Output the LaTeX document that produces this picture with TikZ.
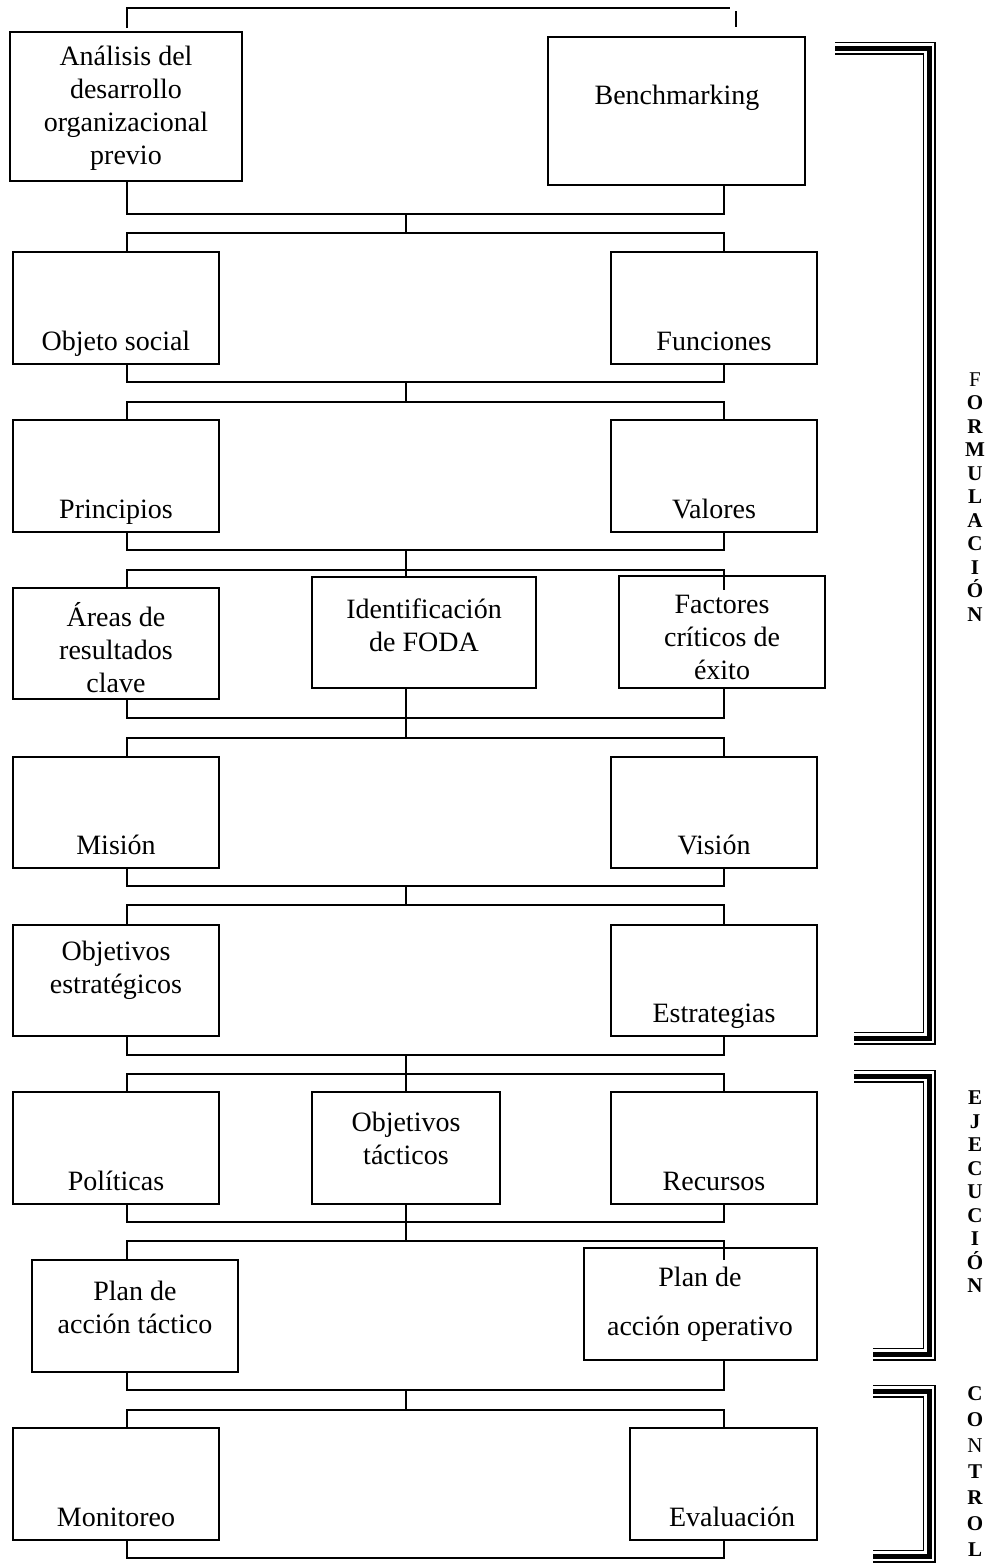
\documentclass[tikz,border=0pt]{standalone}
\usepackage{fontspec}
\setmainfont{Liberation Serif}
\usetikzlibrary{positioning}

\tikzset{
  caja/.style={draw, line width=1.6pt, anchor=north west, inner sep=0pt, outer sep=0pt},
  texto/.style={align=center, inner sep=0pt, font=\fontsize{28}{33}\selectfont},
  linea/.style={texto, anchor=base},
  letras/.style={align=center, inner sep=0pt, font=\fontsize{21}{23.5}\selectfont\bfseries},
  enlace/.style={line width=1.4pt},
}

\begin{document}
\begin{tikzpicture}[x=1pt, y=-1pt]
  \useasboundingbox (0,0) rectangle (994,1564);
  % rieles verticales de los conectores
  \coordinate (L) at (127,0);
  \coordinate (C) at (406,0);
  \coordinate (R) at (724,0);

  % cajas
  \node[caja, minimum width=232pt, minimum height=149pt] (ana) at (10,32) {};
  \node[caja, minimum width=257pt, minimum height=148pt] (bench) at (548,37) {};
  \node[caja, minimum width=206pt, minimum height=112pt] (objeto) at (13,252) {};
  \node[caja, minimum width=206pt, minimum height=112pt] (funciones) at (611,252) {};
  \node[caja, minimum width=206pt, minimum height=112pt] (principios) at (13,420) {};
  \node[caja, minimum width=206pt, minimum height=112pt] (valores) at (611,420) {};
  \node[caja, minimum width=206pt, minimum height=111pt] (areas) at (13,588) {};
  \node[caja, minimum width=224pt, minimum height=111pt] (foda) at (312,577) {};
  \node[caja, minimum width=206pt, minimum height=112pt] (factores) at (619,576) {};
  \node[caja, minimum width=206pt, minimum height=111pt] (mision) at (13,757) {};
  \node[caja, minimum width=206pt, minimum height=111pt] (vision) at (611,757) {};
  \node[caja, minimum width=206pt, minimum height=111pt] (objest) at (13,925) {};
  \node[caja, minimum width=206pt, minimum height=111pt] (estrategias) at (611,925) {};
  \node[caja, minimum width=206pt, minimum height=112pt] (politicas) at (13,1092) {};
  \node[caja, minimum width=188pt, minimum height=112pt] (objtac) at (312,1092) {};
  \node[caja, minimum width=206pt, minimum height=112pt] (recursos) at (611,1092) {};
  \node[caja, minimum width=206pt, minimum height=112pt] (plantac) at (32,1260) {};
  \node[caja, minimum width=233pt, minimum height=112pt] (planop) at (584,1248) {};
  \node[caja, minimum width=206pt, minimum height=112pt] (monitoreo) at (13,1428) {};
  \node[caja, minimum width=187pt, minimum height=112pt] (evaluacion) at (630,1428) {};

  % textos
  \node[texto] (t-ana) at (126,108) {Análisis del\\desarrollo\\organizacional\\previo};
  \node[linea] (t-bench) at (677,104) {Benchmarking};
  \node[linea] (t-objeto) at (116,350) {Objeto social};
  \node[linea] (t-funciones) at (714,350) {Funciones};
  \node[linea] (t-principios) at (116,518) {Principios};
  \node[linea] (t-valores) at (714,518) {Valores};
  \node[texto] (t-areas) at (116,648) {Áreas de\\resultados\\clave};
  \node[texto] (t-foda) at (424,625) {Identificación\\de FODA};
  \node[texto] (t-factores) at (722,637) {Factores\\críticos de\\éxito};
  \node[linea] (t-mision) at (116,854) {Misión};
  \node[linea] (t-vision) at (714,854) {Visión};
  \node[texto] (t-objest) at (116,970) {Objetivos\\estratégicos};
  \node[linea] (t-estrategias) at (714,1022) {Estrategias};
  \node[linea] (t-politicas) at (116,1190) {Políticas};
  \node[texto] (t-objtac) at (406,1138) {Objetivos\\tácticos};
  \node[linea] (t-recursos) at (714,1190) {Recursos};
  \node[texto] (t-plantac) at (135,1307) {Plan de\\acción táctico};
  \node[texto] (t-planop) at (700,1304) {Plan de\\[16pt]acción operativo};
  \node[linea] (t-monitoreo) at (116,1526) {Monitoreo};
  \node[linea] (t-evaluacion) at (732,1526) {Evaluación};

  % conectores
  \coordinate (arr1) at (127,8);
  \coordinate (arr2) at (730,8);
  \coordinate (arr3) at (736,11);
  \coordinate (arr4) at (736,27);
  \draw[enlace] (L |- 0,28) -- (arr1) -- (arr2);
  \draw[enlace] (arr3) -- (arr4);
  \foreach \a/\b/\ya/\yb/\c/\d in {ana/bench/214/233/objeto/funciones,
      objeto/funciones/382/402/principios/valores,
      principios/valores/550/570/areas/factores,
      areas/factores/718/738/mision/vision,
      mision/vision/886/905/objest/estrategias,
      objest/estrategias/1055/1074/politicas/recursos,
      politicas/recursos/1222/1241/plantac/planop,
      plantac/planop/1390/1410/monitoreo/evaluacion} {
    \draw[enlace] (L |- \a.south) -- (L |- 0,\ya) -- (R |- 0,\ya) -- (R |- \b.south);
    \draw[enlace] (C |- 0,\ya) -- (C |- 0,\yb);
    \draw[enlace] (L |- \c.north) -- (L |- 0,\yb) -- (R |- 0,\yb) -- (R |- \d.north);
  }
  \draw[enlace] (C |- 0,570) -- (C |- foda.north);
  \draw[enlace] (C |- foda.south) -- (C |- 0,718);
  \draw[enlace] (R |- factores.north) -- (R |- 0,590);
  \draw[enlace] (C |- 0,1074) -- (objtac.north);
  \draw[enlace] (objtac.south) -- (C |- 0,1222);
  \draw[enlace] (R |- planop.north) -- (R |- plantac.north);
  \draw[enlace] (L |- monitoreo.south) -- (L |- 0,1558) -- (R |- 0,1558) -- (R |- evaluacion.south);

  % corchetes triples
  \foreach \w/\c in {13/black,10/white,5/black} {
    \draw[line width=\w pt, \c, line join=miter] (835,48) -- (929,48) -- (929,1038) -- (854,1038);
    \draw[line width=\w pt, \c, line join=miter] (854,1076) -- (929,1076) -- (929,1354) -- (873,1354);
    \draw[line width=\w pt, \c, line join=miter] (873,1391) -- (929,1391) -- (929,1556) -- (873,1556);
  }

  % letras verticales
  \node[letras] (formulacion) at (975,497) {{\mdseries F}\\O\\R\\M\\U\\L\\A\\C\\I\\Ó\\N};
  \node[letras] (ejecucion) at (975,1192) {E\\J\\E\\C\\U\\C\\I\\Ó\\N};
  \node[letras, font=\fontsize{21}{26}\selectfont\bfseries] (control) at (975,1472) {C\\O\\{\mdseries N}\\T\\R\\O\\L};
\end{tikzpicture}
\end{document}
